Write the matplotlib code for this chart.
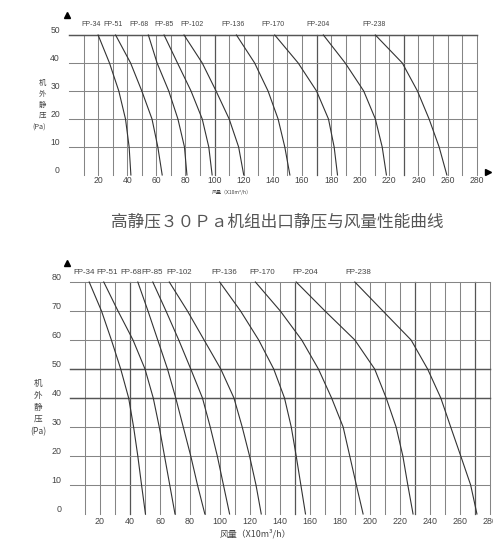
import matplotlib
matplotlib.use('Agg')
import matplotlib.pyplot as plt
from matplotlib.transforms import ScaledTranslation

# ---------------- data ----------------
models = ['FP-34', 'FP-51', 'FP-68', 'FP-85', 'FP-102', 'FP-136', 'FP-170', 'FP-204', 'FP-238']

# Top chart (high static pressure 30Pa): pressure levels (Pa) and airflow (x10 m3/h)
top_pressure = [50, 40, 30, 20, 10, 0]
top_fp34 = [20.0, 27.8, 34.2, 38.8, 41.3, 42.5]
top_fp51 = [32.0, 42.3, 50.0, 57.0, 61.0, 64.0]
top_fp68 = [54.5, 60.5, 68.5, 74.8, 79.3, 81.0]
top_fp85 = [65.3, 74.5, 83.8, 91.5, 96.0, 98.3]
top_fp102 = [79.0, 91.5, 101.0, 110.0, 116.5, 120.0]
top_fp136 = [115.0, 127.5, 136.7, 143.6, 148.2, 151.7]
top_fp170 = [141.3, 157.4, 170.0, 178.2, 182.1, 184.4]
top_fp204 = [174.7, 189.7, 202.4, 210.4, 215.1, 218.0]
top_fp238 = [210.4, 228.9, 239.3, 247.3, 254.2, 259.5]

# Bottom chart: pressure levels (Pa) and airflow (x10 m3/h)
bot_pressure = [80, 70, 60, 50, 40, 30, 20, 10, 0]
bot_fp34 = [12.8, 21.0, 27.6, 33.8, 39.1, 42.4, 45.2, 47.7, 50.3]
bot_fp51 = [22.5, 32.0, 42.0, 50.0, 55.5, 59.5, 63.0, 66.5, 70.0]
bot_fp68 = [45.2, 52.0, 58.5, 65.0, 70.5, 75.5, 80.5, 85.0, 89.9]
bot_fp85 = [55.2, 64.0, 72.5, 80.5, 88.3, 93.5, 98.2, 102.3, 106.4]
bot_fp102 = [66.2, 78.3, 89.4, 100.5, 109.3, 114.8, 119.7, 124.0, 127.5]
bot_fp136 = [99.8, 113.7, 125.8, 135.8, 143.0, 147.5, 150.8, 153.9, 157.0]
bot_fp170 = [123.6, 140.2, 154.5, 165.6, 174.4, 182.1, 186.5, 190.9, 195.4]
bot_fp204 = [150.8, 170.0, 189.9, 203.1, 210.8, 217.4, 221.9, 225.2, 228.7]
bot_fp238 = [189.9, 208.6, 227.4, 238.4, 247.2, 253.8, 260.5, 267.1, 271.3]

x_ticks = [20, 40, 60, 80, 100, 120, 140, 160, 180, 200, 220, 240, 260, 280]
top_y_ticks = [0, 10, 20, 30, 40, 50]
bot_y_ticks = [0, 10, 20, 30, 40, 50, 60, 70, 80]

title = '高静压３０Ｐａ机组出口静压与风量性能曲线'
ylabel_chars = ['机', '外', '静', '压', '(Pa)']
xlabel = '风量（X10m³/h）'

# label placement (layout only)
top_label_x = [15.2, 30.4, 47.9, 65.4, 84.5, 112.5, 139.8, 170.7, 209.6]
bot_label_x = [9.1, 24.7, 40.8, 54.7, 72.8, 102.8, 127.8, 156.7, 192.0]

top_series = [top_fp34, top_fp51, top_fp68, top_fp85, top_fp102, top_fp136, top_fp170, top_fp204, top_fp238]
bot_series = [bot_fp34, bot_fp51, bot_fp68, bot_fp85, bot_fp102, bot_fp136, bot_fp170, bot_fp204, bot_fp238]

# ---------------- drawing ----------------
W, H = 493, 540
fig = plt.figure(figsize=(W / 100, H / 100), dpi=100)
fig.patch.set_facecolor('white')

LAT = ['Liberation Sans', 'DejaVu Sans']
CJK = ['Noto Sans CJK SC', 'DejaVu Sans']
TXT = '#444444'
GRID = '#858585'
DARK = '#555555'
CURVE = '#333333'


def px_axes(l, r, t, b):
    return fig.add_axes([l / W, 1 - b / H, (r - l) / W, (b - t) / H])


def setup(ax, ymax, yticks, dark_x, dark_y, fs, ypad, up_px, xpad):
    ax.set_xlim(0, 280)
    ax.set_ylim(0, ymax)
    for s in ax.spines.values():
        s.set_visible(False)
    for x in range(10, 290, 10):
        d = x in dark_x
        ax.axvline(x, color=DARK if d else GRID, lw=0.9 if d else 0.75, zorder=1, clip_on=False)
    for y in range(10, ymax + 10, 10):
        d = y in dark_y
        ax.axhline(y, color=DARK if d else GRID, lw=1.05 if d else 0.75, zorder=1, clip_on=False)
    ax.set_xticks(x_ticks)
    ax.set_xticklabels([str(v) for v in x_ticks], fontsize=fs, color=TXT, family=LAT)
    ax.set_yticks(yticks)
    ax.set_yticklabels([str(v) for v in yticks], fontsize=fs, color=TXT, family=LAT)
    ax.tick_params(axis='both', length=0)
    ax.tick_params(axis='y', pad=ypad)
    ax.tick_params(axis='x', pad=xpad)
    off = ScaledTranslation(0, up_px / 100, fig.dpi_scale_trans)
    for lbl in ax.get_yticklabels():
        lbl.set_transform(lbl.get_transform() + off)


# ----- top chart -----
ax1 = px_axes(69, 476.7, 35, 175)
setup(ax1, 50, top_y_ticks, dark_x=[100, 170, 230], dark_y=[50], fs=6.2, ypad=6.5, up_px=5.5, xpad=1)
for vals in top_series:
    ax1.plot(vals, top_pressure, color=CURVE, lw=0.8, zorder=3, clip_on=False)
for name, lx in zip(models, top_label_x):
    t = ax1.text(lx, 1.0, name, ha='center', va='bottom', fontsize=5.0, color=TXT, family=LAT)
    t.set_transform(ax1.get_xaxis_transform() + ScaledTranslation(0, 0.075, fig.dpi_scale_trans))
ax1.plot([-0.005], [1.143], marker='^', color='black', ms=5, transform=ax1.transAxes, clip_on=False)
ax1.plot([1.028], [0.02], marker='>', color='black', ms=5, transform=ax1.transAxes, clip_on=False)
fig.text(232 / W, 1 - 192 / H, xlabel, ha='center', va='center', fontsize=3.6, color=TXT, family=CJK)
for i, ch in enumerate(ylabel_chars):
    fig.text((42 if i < 4 else 39) / W, 1 - (83 + 10.8 * i + (1.5 if i == 4 else 0)) / H, ch,
             ha='center', va='center', fontsize=5.3, color=TXT, family=CJK)

# ----- title -----
fig.text(277 / W, 1 - 222 / H, title, ha='center', va='center', fontsize=12.0,
         color='#555555', family=CJK)

# ----- bottom chart -----
ax2 = px_axes(70, 490, 282, 514)
setup(ax2, 80, bot_y_ticks, dark_x=[40, 150, 230, 270], dark_y=[40, 50], fs=6.4, ypad=6.0, up_px=5.5, xpad=2)
for vals in bot_series:
    ax2.plot(vals, bot_pressure, color=CURVE, lw=0.8, zorder=3, clip_on=False)
for name, lx in zip(models, bot_label_x):
    t = ax2.text(lx, 1.0, name, ha='center', va='bottom', fontsize=5.7, color=TXT, family=LAT)
    t.set_transform(ax2.get_xaxis_transform() + ScaledTranslation(0, 0.06, fig.dpi_scale_trans))
ax2.plot([-0.007], [1.082], marker='^', color='black', ms=5, transform=ax2.transAxes, clip_on=False)
fig.text(255 / W, 1 - 534 / H, xlabel, ha='center', va='center', fontsize=6.4, color=TXT, family=CJK)
for i, ch in enumerate(ylabel_chars):
    fig.text(38 / W, 1 - (383 + 12.2 * i) / H, ch,
             ha='center', va='center', fontsize=6.2, color=TXT, family=CJK)

fig.savefig('out.png', dpi=100, facecolor='white')
